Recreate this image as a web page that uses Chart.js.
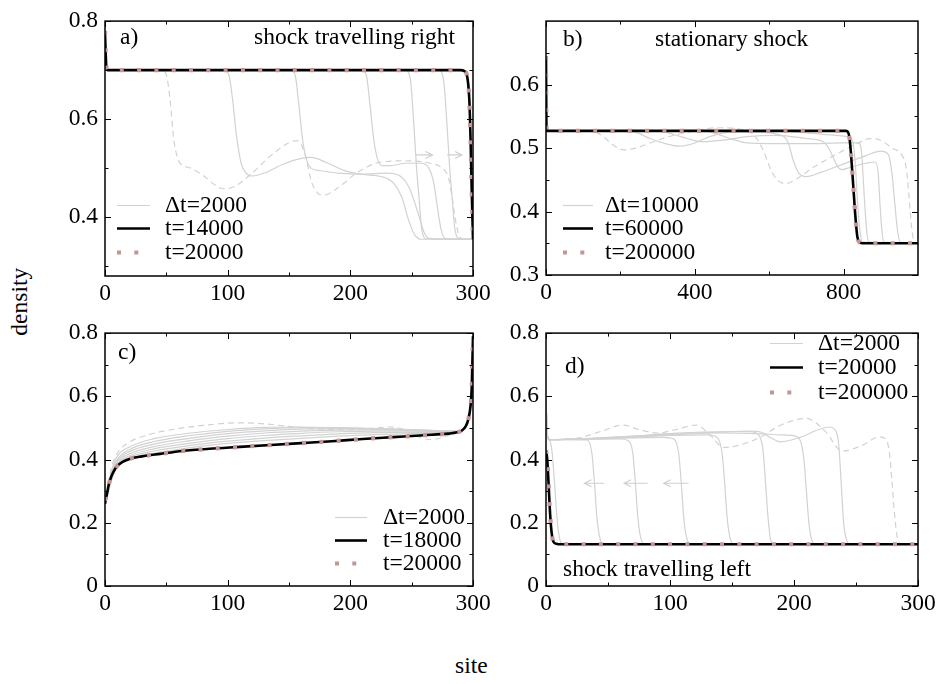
<!DOCTYPE html>
<html><head><meta charset="utf-8">
<script src="https://cdn.jsdelivr.net/npm/chart.js@4.4.0/dist/chart.umd.min.js"></script>
<style>
body{margin:0;background:#fff;width:939px;height:684px;position:relative;overflow:hidden;}
canvas{position:absolute;}
.lab{position:absolute;font-family:"Liberation Serif","Times New Roman",serif;font-size:23.5px;color:#000;white-space:nowrap;line-height:1;}
</style></head><body>
<canvas id="ca"></canvas><canvas id="cb"></canvas><canvas id="cc"></canvas><canvas id="cd"></canvas>
<div class="lab" style="left:-14px;top:290px;transform:rotate(-90deg);">density</div>
<div class="lab" style="left:455px;top:654px;">site</div>
<script>
// ---------------- DATA ----------------
// panel a : shock travelling right
const aXTicks = [0, 100, 200, 300], aXMinor = [50, 150, 250];
const aYTicks = [0.4, 0.6, 0.8], aYMinor = [0.3, 0.5, 0.7];
const aBlackX = [0, 1, 2, 290, 293, 295, 297, 298, 299, 300];
const aBlackY = [0.775, 0.71, 0.70, 0.70, 0.698, 0.69, 0.64, 0.56, 0.45, 0.355];
const aDotsX = [0, 1, 2, 290, 293, 295, 297, 298, 299, 300];
const aDotsY = [0.78, 0.71, 0.70, 0.70, 0.698, 0.69, 0.64, 0.56, 0.45, 0.355];
const aG1X = [0, 46, 50, 53, 56, 60, 64, 70, 80, 90, 96, 105, 120, 135, 150, 156, 160, 164, 168, 173, 178, 190, 205, 224, 245, 265, 275, 280, 283, 286, 289, 292, 300];
const aG1Y = [0.70, 0.70, 0.69, 0.64, 0.56, 0.515, 0.505, 0.50, 0.485, 0.465, 0.458, 0.462, 0.49, 0.525, 0.552, 0.556, 0.548, 0.52, 0.475, 0.45, 0.445, 0.46, 0.49, 0.512, 0.515, 0.51, 0.50, 0.48, 0.44, 0.39, 0.36, 0.355, 0.355];
const aG2X = [0, 97, 101, 104, 107, 111, 115, 120, 130, 145, 160, 168, 180, 195, 210, 225, 235, 242, 248, 253, 258, 300];
const aG2Y = [0.70, 0.70, 0.69, 0.64, 0.57, 0.51, 0.49, 0.484, 0.49, 0.508, 0.52, 0.522, 0.512, 0.495, 0.487, 0.483, 0.47, 0.44, 0.39, 0.362, 0.355, 0.355];
const aG3X = [0, 151, 155, 158, 161, 164, 168, 175, 190, 210, 230, 240, 248, 255, 260, 264, 300];
const aG3Y = [0.70, 0.70, 0.69, 0.63, 0.56, 0.52, 0.50, 0.495, 0.49, 0.488, 0.49, 0.485, 0.46, 0.41, 0.37, 0.357, 0.355];
const aG4X = [0, 209, 213, 216, 219, 222, 226, 232, 245, 258, 264, 268, 271, 274, 277, 300];
const aG4Y = [0.70, 0.70, 0.69, 0.63, 0.56, 0.52, 0.505, 0.505, 0.51, 0.51, 0.50, 0.47, 0.42, 0.375, 0.357, 0.355];
const aG5X = [0, 245, 249, 252, 254, 256, 258, 262, 300];
const aG5Y = [0.70, 0.70, 0.68, 0.58, 0.50, 0.44, 0.38, 0.356, 0.355];
const aG6X = [0, 272, 276, 279, 281, 283, 285, 289, 300];
const aG6Y = [0.70, 0.70, 0.68, 0.58, 0.50, 0.44, 0.38, 0.356, 0.355];
const aArrows = [[253, 267, 0.527], [279, 291, 0.527]];

// panel b : stationary shock
const bXTicks = [0, 400, 800], bXMinor = [200, 600];
const bYTicks = [0.3, 0.4, 0.5, 0.6], bYMinor = [0.35, 0.45, 0.55, 0.65];
const bBlackX = [0, 1, 3, 780, 806, 812, 816, 820, 826, 832, 837, 842, 850, 1000];
const bBlackY = [0.645, 0.54, 0.527, 0.527, 0.527, 0.525, 0.515, 0.49, 0.44, 0.39, 0.36, 0.352, 0.35, 0.35];
const bDotsX = [0, 1, 3, 780, 806, 812, 816, 820, 826, 832, 837, 842, 850, 1000];
const bDotsY = [0.645, 0.54, 0.527, 0.527, 0.527, 0.525, 0.515, 0.49, 0.44, 0.39, 0.36, 0.352, 0.35, 0.35];
const bG1X = [0, 120, 150, 180, 210, 240, 280, 330, 400, 460, 520, 560, 585, 605, 625, 645, 670, 720, 780, 840, 870, 900, 930, 955, 968, 975, 982, 990, 1000];
const bG1Y = [0.527, 0.527, 0.52, 0.505, 0.497, 0.50, 0.508, 0.518, 0.527, 0.532, 0.53, 0.52, 0.495, 0.465, 0.448, 0.444, 0.45, 0.47, 0.49, 0.508, 0.515, 0.512, 0.50, 0.49, 0.47, 0.43, 0.38, 0.352, 0.35];
const bG2X = [0, 200, 240, 280, 320, 360, 400, 440, 500, 560, 620, 650, 665, 680, 700, 740, 800, 860, 900, 920, 930, 938, 945, 952, 1000];
const bG2Y = [0.527, 0.527, 0.525, 0.515, 0.507, 0.503, 0.508, 0.518, 0.525, 0.525, 0.522, 0.51, 0.48, 0.46, 0.455, 0.462, 0.475, 0.488, 0.495, 0.49, 0.46, 0.41, 0.37, 0.352, 0.35];
const bG3X = [0, 300, 340, 380, 420, 470, 540, 620, 700, 745, 760, 772, 785, 795, 820, 860, 885, 893, 898, 903, 908, 1000];
const bG3Y = [0.527, 0.527, 0.522, 0.515, 0.51, 0.512, 0.518, 0.52, 0.515, 0.51, 0.50, 0.485, 0.47, 0.466, 0.47, 0.476, 0.478, 0.46, 0.41, 0.37, 0.352, 0.35];
const bG4X = [0, 420, 460, 500, 540, 600, 700, 800, 840, 848, 852, 857, 862, 868, 1000];
const bG4Y = [0.527, 0.527, 0.522, 0.514, 0.508, 0.507, 0.507, 0.508, 0.508, 0.495, 0.46, 0.41, 0.37, 0.352, 0.35];
const bG5X = [0, 600, 700, 780, 810, 825, 832, 838, 844, 850, 1000];
const bG5Y = [0.527, 0.527, 0.524, 0.52, 0.518, 0.51, 0.47, 0.41, 0.37, 0.352, 0.35];

// panel c
const cXTicks = [0, 100, 200, 300], cXMinor = [50, 150, 250];
const cYTicks = [0, 0.2, 0.4, 0.6, 0.8], cYMinor = [0.1, 0.3, 0.5, 0.7];
const cBlackX = [0, 1, 2, 3, 5, 7, 10, 14, 20, 30, 45, 63, 85, 110, 135, 160, 185, 210, 235, 260, 280, 287, 291, 294, 296, 298, 299, 300];
const cBlackY = [0.26, 0.28, 0.30, 0.32, 0.345, 0.362, 0.38, 0.392, 0.402, 0.41, 0.418, 0.427, 0.434, 0.44, 0.446, 0.452, 0.458, 0.465, 0.471, 0.477, 0.482, 0.486, 0.492, 0.505, 0.525, 0.57, 0.63, 0.79];
const cDotsX = [0, 1, 2, 3, 5, 7, 10, 14, 20, 30, 45, 63, 85, 110, 135, 160, 185, 210, 235, 260, 280, 287, 291, 294, 296, 298, 299, 300];
const cDotsY = [0.27, 0.285, 0.30, 0.32, 0.345, 0.362, 0.38, 0.392, 0.402, 0.41, 0.418, 0.427, 0.434, 0.44, 0.446, 0.452, 0.458, 0.465, 0.471, 0.477, 0.482, 0.486, 0.492, 0.505, 0.525, 0.57, 0.63, 0.80];
const cG1X = [0, 2, 5, 10, 20, 35, 55, 80, 100, 115, 130, 150, 175, 200, 220, 232, 242, 250, 258, 266, 275, 285, 292, 296, 298, 299, 300];
const cG1Y = [0.26, 0.31, 0.37, 0.42, 0.455, 0.478, 0.495, 0.508, 0.515, 0.516, 0.513, 0.505, 0.497, 0.495, 0.50, 0.503, 0.497, 0.482, 0.468, 0.463, 0.47, 0.484, 0.498, 0.525, 0.57, 0.63, 0.79];
const cGrayX = [0, 2, 5, 10, 20, 40, 70, 100, 130, 160, 190, 220, 250, 280, 288, 292, 295, 297, 299, 300];
const cG2Y = [0.26, 0.30, 0.36, 0.41, 0.44, 0.466, 0.484, 0.495, 0.502, 0.503, 0.500, 0.497, 0.494, 0.49, 0.489, 0.495, 0.51, 0.535, 0.63, 0.79];
const cG3Y = [0.26, 0.30, 0.355, 0.40, 0.432, 0.457, 0.476, 0.489, 0.497, 0.501, 0.501, 0.498, 0.495, 0.49, 0.489, 0.495, 0.51, 0.535, 0.63, 0.79];
const cG4Y = [0.26, 0.295, 0.35, 0.395, 0.425, 0.449, 0.468, 0.482, 0.491, 0.496, 0.498, 0.497, 0.494, 0.49, 0.489, 0.495, 0.51, 0.535, 0.63, 0.79];
const cG5Y = [0.26, 0.29, 0.345, 0.39, 0.418, 0.441, 0.46, 0.474, 0.484, 0.49, 0.493, 0.494, 0.492, 0.489, 0.488, 0.494, 0.51, 0.535, 0.63, 0.79];
const cG6Y = [0.26, 0.29, 0.34, 0.385, 0.412, 0.434, 0.452, 0.466, 0.476, 0.483, 0.488, 0.49, 0.49, 0.488, 0.487, 0.494, 0.51, 0.535, 0.63, 0.79];
const cG7Y = [0.26, 0.285, 0.335, 0.38, 0.407, 0.427, 0.445, 0.458, 0.468, 0.475, 0.481, 0.485, 0.486, 0.486, 0.487, 0.494, 0.51, 0.535, 0.63, 0.79];
const cG8Y = [0.26, 0.285, 0.33, 0.378, 0.403, 0.42, 0.438, 0.451, 0.46, 0.467, 0.474, 0.479, 0.482, 0.484, 0.486, 0.493, 0.51, 0.535, 0.63, 0.79];

// panel d : shock travelling left
const dXTicks = [0, 100, 200, 300], dXMinor = [50, 150, 250];
const dYTicks = [0, 0.2, 0.4, 0.6, 0.8], dYMinor = [0.1, 0.3, 0.5, 0.7];
const dBlackX = [0, 1, 2, 3, 4, 5, 6, 8, 10, 300];
const dBlackY = [0.43, 0.40, 0.33, 0.25, 0.19, 0.155, 0.14, 0.134, 0.132, 0.132];
const dDotsX = [0, 1, 2, 3, 4, 5, 6, 8, 10, 300];
const dDotsY = [0.43, 0.40, 0.33, 0.25, 0.19, 0.155, 0.14, 0.134, 0.132, 0.132];
const dG1X = [0, 1, 3, 27, 45, 62, 75, 90, 105, 121, 133, 143, 155, 172, 190, 210, 225, 239, 255, 269, 274, 277, 279, 281, 283, 286, 300];
const dG1Y = [0.6, 0.48, 0.463, 0.469, 0.49, 0.509, 0.495, 0.484, 0.495, 0.509, 0.475, 0.438, 0.445, 0.469, 0.51, 0.53, 0.49, 0.427, 0.445, 0.472, 0.465, 0.42, 0.33, 0.23, 0.16, 0.133, 0.132];
const dG2X = [0, 1, 3, 40, 80, 120, 148, 165, 173, 181, 189, 205, 220, 229, 233, 236, 238, 240, 242, 245, 300];
const dG2Y = [0.6, 0.48, 0.463, 0.468, 0.476, 0.484, 0.488, 0.49, 0.487, 0.47, 0.456, 0.47, 0.495, 0.503, 0.495, 0.45, 0.33, 0.2, 0.15, 0.133, 0.132];
const dG3X = [0, 1, 3, 60, 100, 140, 170, 190, 200, 205, 208, 210, 212, 214, 217, 300];
const dG3Y = [0.6, 0.48, 0.463, 0.47, 0.478, 0.484, 0.482, 0.478, 0.475, 0.46, 0.4, 0.3, 0.2, 0.15, 0.133, 0.132];
const dG4X = [0, 1, 3, 60, 100, 140, 165, 172, 175, 177, 179, 181, 184, 300];
const dG4Y = [0.6, 0.48, 0.463, 0.472, 0.482, 0.488, 0.488, 0.475, 0.43, 0.33, 0.22, 0.15, 0.133, 0.132];
const dG5X = [0, 1, 3, 50, 100, 130, 138, 142, 144, 146, 148, 151, 300];
const dG5Y = [0.6, 0.48, 0.463, 0.468, 0.476, 0.478, 0.47, 0.42, 0.33, 0.22, 0.16, 0.133, 0.132];
const dG6X = [0, 1, 3, 50, 95, 103, 107, 109, 111, 113, 116, 300];
const dG6Y = [0.6, 0.48, 0.463, 0.467, 0.47, 0.465, 0.42, 0.33, 0.22, 0.16, 0.133, 0.132];
const dG7X = [0, 1, 3, 60, 66, 70, 72, 74, 76, 79, 300];
const dG7Y = [0.6, 0.48, 0.463, 0.465, 0.46, 0.42, 0.33, 0.22, 0.16, 0.133, 0.132];
const dG8X = [0, 1, 3, 33, 37, 39, 41, 43, 46, 300];
const dG8Y = [0.6, 0.48, 0.463, 0.462, 0.42, 0.33, 0.22, 0.16, 0.133, 0.132];
const dG9X = [0, 1, 3, 5, 7, 9, 11, 14, 300];
const dG9Y = [0.6, 0.47, 0.46, 0.42, 0.32, 0.21, 0.15, 0.133, 0.132];
const dArrows = [[47, 31, 0.325], [82, 63, 0.325], [115, 95, 0.325]];

// ---------------- STYLE / LAYOUT ----------------
const FONT = '"Liberation Serif", "Times New Roman", serif';
const FS = 23.5;
const GRAY = '#d2d2d2';
const S_GRAY = {borderColor: GRAY, borderWidth: 1.2};
const S_DASH = {borderColor: GRAY, borderWidth: 1.2, borderDash: [6, 4]};
const S_BLACK = {borderColor: '#000', borderWidth: 2.6};
const S_DOTS = {borderColor: '#c39595', borderWidth: 4.2, borderDash: [4, 13.3], borderCapStyle: 'butt'};
const PADL = 65, PADT = 15, PADR = 22, PADB = 34;

function ser(xs, ys, style) {
  return Object.assign({data: xs.map((x, i) => ({x: x, y: ys[i]})), pointRadius: 0, fill: false,
    cubicInterpolationMode: 'monotone'}, style);
}

const deco = {
  id: 'panelDeco',
  afterDatasetsDraw(chart, args, o) {
    const ctx = chart.ctx, a = chart.chartArea, xs = chart.scales.x, ys = chart.scales.y;
    const ox = o.off.x, oy = o.off.y;
    ctx.save();
    // arrows
    ctx.strokeStyle = '#cfcfcf'; ctx.lineWidth = 1.2; ctx.setLineDash([]);
    (o.arrows || []).forEach(([x0, x1, v]) => {
      const p0 = xs.getPixelForValue(x0), p1 = xs.getPixelForValue(x1), py = ys.getPixelForValue(v);
      const dir = p1 > p0 ? 1 : -1;
      ctx.beginPath(); ctx.moveTo(p0, py); ctx.lineTo(p1, py);
      ctx.moveTo(p1 - dir * 7, py - 3.5); ctx.lineTo(p1, py); ctx.lineTo(p1 - dir * 7, py + 3.5);
      ctx.stroke();
    });
    // frame
    ctx.strokeStyle = '#000'; ctx.lineWidth = 1.5;
    ctx.strokeRect(a.left, a.top, a.right - a.left, a.bottom - a.top);
    // inward ticks
    ctx.lineWidth = 1;
    const tick = (vals, len, axis) => vals.forEach(v => {
      ctx.beginPath();
      if (axis === 'x') {
        const p = Math.round(xs.getPixelForValue(v)) + 0.5;
        ctx.moveTo(p, a.bottom); ctx.lineTo(p, a.bottom - len);
        ctx.moveTo(p, a.top); ctx.lineTo(p, a.top + len);
      } else {
        const p = Math.round(ys.getPixelForValue(v)) + 0.5;
        ctx.moveTo(a.left, p); ctx.lineTo(a.left + len, p);
        ctx.moveTo(a.right, p); ctx.lineTo(a.right - len, p);
      }
      ctx.stroke();
    });
    tick(o.xMajor, 6, 'x'); tick(o.xMinor, 3.5, 'x');
    tick(o.yMajor, 6, 'y'); tick(o.yMinor, 3.5, 'y');
    // texts
    ctx.fillStyle = '#000'; ctx.font = FS + 'px ' + FONT; ctx.textBaseline = 'middle'; ctx.textAlign = 'left';
    (o.texts || []).forEach(t => ctx.fillText(t.s, t.x - ox, t.y - oy));
    // legend
    const L = o.legend;
    L.items.forEach(it => {
      const y = Math.round(it.y - oy) + 0.5;
      ctx.save();
      ctx.strokeStyle = it.style.borderColor; ctx.lineWidth = it.style.borderWidth;
      ctx.setLineDash(it.style.borderDash || []); ctx.lineCap = 'butt';
      ctx.beginPath(); ctx.moveTo(L.x0 - ox, y); ctx.lineTo(L.x1 - ox, y); ctx.stroke();
      ctx.restore();
      ctx.fillText(it.label, L.tx - ox, y);
    });
    ctx.restore();
  }
};

function build(id, rect, p) {
  const cv = document.getElementById(id);
  const W = rect.R - rect.L + PADL + PADR, H = rect.B - rect.T + PADT + PADB;
  const off = {x: rect.L - PADL, y: rect.T - PADT};
  cv.width = W; cv.height = H;
  cv.style.left = off.x + 'px'; cv.style.top = off.y + 'px';
  cv.style.width = W + 'px'; cv.style.height = H + 'px';
  const fmtY = v => (v === 0 ? '0' : v.toFixed(1));
  return new Chart(cv, {
    type: 'line',
    data: {datasets: p.datasets},
    options: {
      responsive: false, animation: false, devicePixelRatio: 1,
      layout: {padding: {left: 0, top: PADT, right: PADR, bottom: 0}},
      plugins: {legend: {display: false}, tooltip: {enabled: false},
        panelDeco: Object.assign({off: off, xMajor: p.xTicks, xMinor: p.xMinor, yMajor: p.yTicks, yMinor: p.yMinor}, p.deco)},
      scales: {
        x: {type: 'linear', min: p.xMin, max: p.xMax, grid: {display: false, drawTicks: false}, border: {display: false},
          afterFit: s => { s.height = PADB; },
          afterBuildTicks: s => { s.ticks = p.xTicks.map(v => ({value: v})); },
          ticks: {font: {family: FONT, size: FS}, color: '#000', padding: 4, maxRotation: 0, autoSkip: false,
            callback: v => String(v)}},
        y: {type: 'linear', min: p.yMin, max: p.yMax, grid: {display: false, drawTicks: false}, border: {display: false},
          afterFit: s => { s.width = PADL; },
          afterBuildTicks: s => { s.ticks = p.yTicks.map(v => ({value: v})); },
          ticks: {font: {family: FONT, size: FS}, color: '#000', padding: 7, autoSkip: false,
            callback: v => fmtY(v)}}
      }
    },
    plugins: [deco]
  });
}

// panel a
build('ca', {L: 105, T: 15, R: 473, B: 276}, {
  xMin: 0, xMax: 300, yMin: 0.28, yMax: 0.8,
  xTicks: aXTicks, xMinor: aXMinor, yTicks: aYTicks, yMinor: aYMinor,
  datasets: [ser(aDotsX, aDotsY, S_DOTS), ser(aBlackX, aBlackY, S_BLACK),
    ser(aG1X, aG1Y, S_DASH), ser(aG2X, aG2Y, S_GRAY), ser(aG3X, aG3Y, S_GRAY),
    ser(aG4X, aG4Y, S_GRAY), ser(aG5X, aG5Y, S_GRAY), ser(aG6X, aG6Y, S_GRAY)],
  deco: {arrows: aArrows,
    texts: [{s: 'a)', x: 120, y: 38}, {s: 'shock travelling right', x: 254, y: 38}],
    legend: {x0: 117, x1: 150, tx: 165, items: [
      {label: 'Δt=2000', y: 205, style: S_GRAY}, {label: 't=14000', y: 228, style: S_BLACK},
      {label: 't=20000', y: 252, style: S_DOTS}]}}
});
// panel b
build('cb', {L: 546, T: 15, R: 918, B: 275}, {
  xMin: 0, xMax: 1000, yMin: 0.3, yMax: 0.7,
  xTicks: bXTicks, xMinor: bXMinor, yTicks: bYTicks, yMinor: bYMinor,
  datasets: [ser(bDotsX, bDotsY, S_DOTS), ser(bBlackX, bBlackY, S_BLACK),
    ser(bG1X, bG1Y, S_DASH), ser(bG2X, bG2Y, S_GRAY), ser(bG3X, bG3Y, S_GRAY),
    ser(bG4X, bG4Y, S_GRAY), ser(bG5X, bG5Y, S_GRAY)],
  deco: {texts: [{s: 'b)', x: 563, y: 40}, {s: 'stationary shock', x: 655, y: 40}],
    legend: {x0: 563, x1: 593, tx: 605, items: [
      {label: 'Δt=10000', y: 205, style: S_GRAY}, {label: 't=60000', y: 228, style: S_BLACK},
      {label: 't=200000', y: 252, style: S_DOTS}]}}
});
// panel c
build('cc', {L: 105, T: 327, R: 473, B: 586}, {
  xMin: 0, xMax: 300, yMin: 0, yMax: 0.8,
  xTicks: cXTicks, xMinor: cXMinor, yTicks: cYTicks, yMinor: cYMinor,
  datasets: [ser(cDotsX, cDotsY, S_DOTS), ser(cBlackX, cBlackY, S_BLACK),
    ser(cG1X, cG1Y, S_DASH), ser(cGrayX, cG2Y, S_GRAY), ser(cGrayX, cG3Y, S_GRAY),
    ser(cGrayX, cG4Y, S_GRAY), ser(cGrayX, cG5Y, S_GRAY), ser(cGrayX, cG6Y, S_GRAY),
    ser(cGrayX, cG7Y, S_GRAY), ser(cGrayX, cG8Y, S_GRAY)],
  deco: {texts: [{s: 'c)', x: 118, y: 353}],
    legend: {x0: 335, x1: 367, tx: 383, items: [
      {label: 'Δt=2000', y: 517, style: S_GRAY}, {label: 't=18000', y: 540, style: S_BLACK},
      {label: 't=20000', y: 563, style: S_DOTS}]}}
});
// panel d
build('cd', {L: 546, T: 327, R: 918, B: 586}, {
  xMin: 0, xMax: 300, yMin: 0, yMax: 0.8,
  xTicks: dXTicks, xMinor: dXMinor, yTicks: dYTicks, yMinor: dYMinor,
  datasets: [ser(dDotsX, dDotsY, S_DOTS), ser(dBlackX, dBlackY, S_BLACK),
    ser(dG1X, dG1Y, S_DASH), ser(dG2X, dG2Y, S_GRAY), ser(dG3X, dG3Y, S_GRAY),
    ser(dG4X, dG4Y, S_GRAY), ser(dG5X, dG5Y, S_GRAY), ser(dG6X, dG6Y, S_GRAY),
    ser(dG7X, dG7Y, S_GRAY), ser(dG8X, dG8Y, S_GRAY), ser(dG9X, dG9Y, S_GRAY)],
  deco: {arrows: dArrows,
    texts: [{s: 'd)', x: 565, y: 367}, {s: 'shock travelling left', x: 563, y: 570}],
    legend: {x0: 770, x1: 803, tx: 818, items: [
      {label: 'Δt=2000', y: 343, style: S_GRAY}, {label: 't=20000', y: 367, style: S_BLACK},
      {label: 't=200000', y: 392, style: S_DOTS}]}}
});
</script></body></html>
